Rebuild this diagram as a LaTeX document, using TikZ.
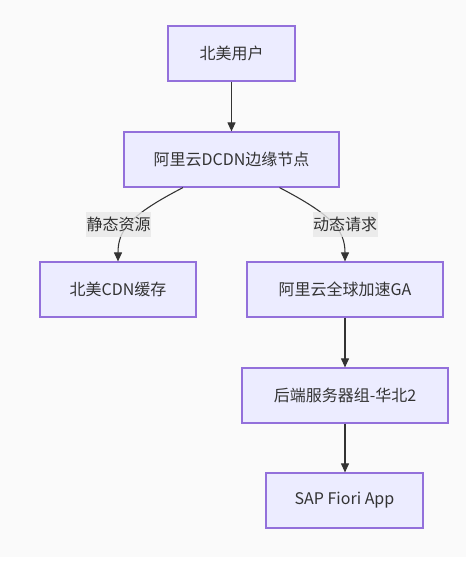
\documentclass[tikz,border=0pt]{standalone}
\usepackage{fontspec}
\setmainfont{Noto Sans CJK SC}
\usetikzlibrary{arrows.meta}
\definecolor{boxfill}{HTML}{ECECFF}
\definecolor{boxline}{HTML}{9370DB}
\definecolor{edgeline}{HTML}{333333}
\definecolor{labelfill}{HTML}{E8E8E8}
\definecolor{pagebg}{HTML}{FAFAFA}
\begin{document}
\begin{tikzpicture}[x=0.75pt,y=-0.75pt,
  box/.style={draw=boxline,fill=boxfill,line width=0.9pt,minimum height=41.25pt,
    text=edgeline,font=\fontsize{12}{14}\selectfont},
  flow/.style={draw=edgeline,line width=0.8pt,-{Triangle[length=6.75pt,width=6pt]}},
  edgelabel/.style={fill=labelfill,fill opacity=0.8,text opacity=1,text=edgeline,
    minimum width=48.75pt,minimum height=18.75pt,inner sep=0pt,font=\fontsize{12}{14}\selectfont}]
\fill[white] (0,0) rectangle (469,566);
\fill[pagebg] (0,0) rectangle (466,557);
\node[box,minimum width=95.25pt] (user) at (231.5,53.5) {北美用户};
\node[box,minimum width=161.25pt] (dcdn) at (231.5,159.5) {阿里云DCDN边缘节点};
\node[box,minimum width=117pt] (cdn) at (118,289.5) {北美CDN缓存};
\node[box,minimum width=147pt] (ga) at (345,289.5) {阿里云全球加速GA};
\node[box,minimum width=154.5pt] (backend) at (345,395.5) {后端服务器组-华北2};
\node[box,minimum width=117.75pt] (sap) at (344.5,500.5) {SAP Fiori App};
\draw[flow] (user) -- (dcdn);
\draw[flow] ([xshift=-36.4pt]dcdn.south) .. controls (130,215) and (118,230) .. (cdn.north);
\draw[flow] ([xshift=36pt]dcdn.south) .. controls (332,215) and (345,230) .. (ga.north);
\draw[flow] (ga) -- (backend);
\draw[flow] (backend.south) -- (backend.south |- sap.north);
\node[edgelabel] (static) at (118.5,224.5) {静态资源};
\node[edgelabel] (dynamic) at (345,224.5) {动态请求};
\end{tikzpicture}
\end{document}
